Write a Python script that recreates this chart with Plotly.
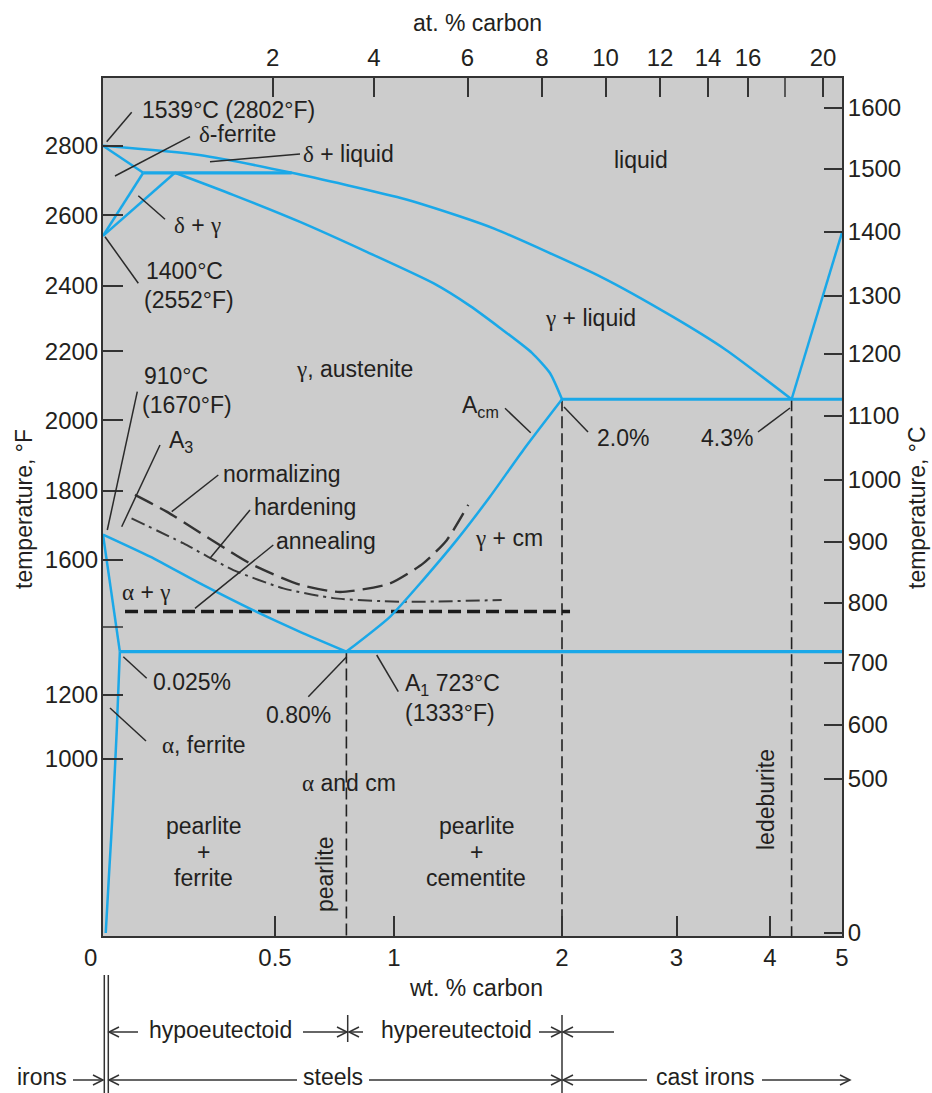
import numpy as np
import plotly.graph_objects as go

# ---------------- axis scales (non-linear) ----------------
WT_SCALE = [0, 0.5, 1, 2, 3, 4, 5]
WT_SCALE_PX = [103, 275, 394, 562, 676.5, 770, 842]
TC_SCALE = [-10, 0, 500, 600, 700, 800, 900, 1000, 1100, 1200, 1300, 1400, 1500, 1600, 1650]
TC_SCALE_PX = [936, 933, 779, 725, 663, 603, 542, 480, 416, 354, 296, 232, 169, 108, 78]

# ---------------- tick values / labels ----------------
WT_TICKS = [0.5, 1, 2, 3, 4, 5]
WT_LABELS = ["0.5", "1", "2", "3", "4", "5"]
AT_TICKS = [2, 4, 6, 8, 10, 12, 14, 16, 20]
AT_TICK_PX = [272.7, 374, 467.5, 542, 605.5, 660, 708, 748, 823]
AT_LABELS = ["2", "4", "6", "8", "10", "12", "14", "16", "20"]
AT_MINOR_PX = [785]  # unlabeled 18 at.% tick
TF_TICKS = [1000, 1200, 1600, 1800, 2000, 2200, 2400, 2600, 2800]
TF_LABELS = ["1000", "1200", "1600", "1800", "2000", "2200", "2400", "2600", "2800"]
TF_MINOR = [1400]  # unlabeled tick
TC_TICKS = [0, 500, 600, 700, 800, 900, 1000, 1100, 1200, 1300, 1400, 1500, 1600]

# ---------------- phase boundaries (wt.% C, deg C) ----------------
LIQ_WT = [0, 0.28, 0.57, 1.04, 1.39, 1.60, 2.34, 2.97, 3.53, 4.3]
LIQ_T = [1538, 1523, 1494, 1454, 1425, 1405, 1330, 1264, 1207, 1127]
CM_LIQ_WT = [4.3, 5.0]
CM_LIQ_T = [1127, 1399]
DSOL_WT = [0, 0.117]
DSOL_T = [1538, 1494]
PERIT_WT = [0.117, 0.57]
PERIT_T = [1494, 1494]
DG1_WT = [0.117, 0]
DG1_T = [1494, 1394]
DG2_WT = [0.209, 0]
DG2_T = [1494, 1394]
SOL_WT = [0.209, 0.378, 0.605, 0.885, 1.234, 1.452, 1.631, 1.821, 1.929, 2.0]
SOL_T = [1494, 1459, 1416, 1369, 1320, 1283, 1245, 1202, 1169, 1127]
EUT_WT = [2.0, 5.0]
EUT_T = [1127, 1127]
ACM_WT = [0.8, 0.983, 1.174, 1.373, 1.571, 1.770, 2.0]
ACM_T = [719, 777, 838, 903, 973, 1047, 1127]
A3_WT = [0, 0.137, 0.282, 0.436, 0.605, 0.8]
A3_T = [912, 876, 832, 788, 752, 719]
AG_WT = [0, 0.049]
AG_T = [912, 719]
A1_WT = [0.049, 5.0]
A1_T = [719, 719]
ASOLV_WT = [0.049, 0.040, 0.030, 0.018, 0.008]
ASOLV_T = [719, 591, 430, 200, 0]

# heat-treatment ranges
NORM_WT = [0.093, 0.185, 0.427, 0.605, 0.773, 0.983, 1.174, 1.314, 1.442]
NORM_T = [976, 949, 865, 830, 818, 832, 865, 903, 960]
HARD_WT = [0.083, 0.233, 0.379, 0.535, 0.745, 1.036, 1.641]
HARD_T = [938, 898, 854, 824, 808, 802, 805]
ANNEAL_WT = [0.064, 2.07]
ANNEAL_T = [786, 786]

# composition markers
MARK_WT = [0.8, 2.0, 4.3]
MARK_TOP_T = [719, 1127, 1127]
MARK_BOTTOM_T = -10

# ---------------- frame & style ----------------
W_PX, H_PX = 932, 1093
PLOT_LEFT, PLOT_RIGHT, PLOT_TOP, PLOT_BOTTOM = 103, 842, 78, 936
PLOT_W = PLOT_RIGHT - PLOT_LEFT
PLOT_H = PLOT_BOTTOM - PLOT_TOP
BLUE = "#1aa8e8"
AX = "#333333"
TXT = "#231f20"
FONT = "Liberation Sans, Arial, sans-serif"
GREEK = "Liberation Serif"
FS = 23


def fx(wt):
    return (np.interp(np.asarray(wt, float), WT_SCALE, WT_SCALE_PX) - PLOT_LEFT) / PLOT_W


def fy(t):
    return (PLOT_BOTTOM - np.interp(np.asarray(t, float), TC_SCALE, TC_SCALE_PX)) / PLOT_H


def PX(x):
    return (x - PLOT_LEFT) / PLOT_W


def PY(y):
    return (PLOT_BOTTOM - y) / PLOT_H


def G(s):
    return '<span style="font-family:%s">%s</span>' % (GREEK, s)


fig = go.Figure()


def curve(wt, t, color=BLUE, width=2.5, dash="solid", shape="linear"):
    fig.add_trace(go.Scatter(
        x=fx(wt).tolist(), y=fy(t).tolist(), mode="lines",
        line=dict(color=color, width=width, dash=dash, shape=shape, smoothing=0.6),
        hoverinfo="skip", showlegend=False))


# heat treatment lines and markers (underneath)
for w, tt in zip(MARK_WT, MARK_TOP_T):
    curve([w, w], [tt, MARK_BOTTOM_T], color="#222222", width=1.6, dash="12px,5px")
curve(ANNEAL_WT, ANNEAL_T, color="#1a1a1a", width=3.5, dash="13px,6px")
curve(NORM_WT, NORM_T, color="#333333", width=2.4, dash="20px,8px", shape="spline")
curve(HARD_WT, HARD_T, color="#3a3a3a", width=2.0, dash="14px,5px,3px,5px", shape="spline")

# phase boundaries
curve(LIQ_WT, LIQ_T, shape="spline")
curve(CM_LIQ_WT, CM_LIQ_T)
curve(DSOL_WT, DSOL_T)
curve(PERIT_WT, PERIT_T, width=3.2)
curve(DG1_WT, DG1_T)
curve(DG2_WT, DG2_T)
curve(SOL_WT, SOL_T, shape="spline")
curve(EUT_WT, EUT_T, width=3.2)
curve(ACM_WT, ACM_T, shape="spline")
curve(A3_WT, A3_T, shape="spline")
curve(AG_WT, AG_T)
curve(A1_WT, A1_T, width=3.2)
curve(ASOLV_WT, ASOLV_T, shape="spline")

# dummy trace for secondary axes
fig.add_trace(go.Scatter(x=[None], y=[None], xaxis="x2", yaxis="y2", mode="lines",
                         showlegend=False, hoverinfo="skip"))

shapes = []
annotations = []


def seg(x0, y0, x1, y1, color=AX, width=1.5):
    shapes.append(dict(type="line", xref="paper", yref="paper", x0=PX(x0), y0=PY(y0),
                       x1=PX(x1), y1=PY(y1), line=dict(color=color, width=width), layer="above"))


def chevron(x, y, d):
    # tip at (x, y); d=+1 points right, d=-1 points left
    p = "M %f,%f L %f,%f L %f,%f" % (PX(x - d * 10), PY(y - 5), PX(x), PY(y), PX(x - d * 10), PY(y + 5))
    shapes.append(dict(type="path", xref="paper", yref="paper", path=p,
                       line=dict(color=AX, width=1.5), layer="above"))


def text(s, x, y, size=FS, xanchor="center", angle=0, align="center"):
    annotations.append(dict(text=s, x=PX(x), y=PY(y), xref="paper", yref="paper", showarrow=False,
                            xanchor=xanchor, yanchor="middle", textangle=angle, align=align,
                            font=dict(family=FONT, size=size, color=TXT)))


# unlabeled minor ticks
for p in AT_MINOR_PX:
    seg(p, PLOT_TOP, p, PLOT_TOP + 19, width=1.5)
for f in TF_MINOR:
    yy = PLOT_BOTTOM - float(fy((f - 32) * 5 / 9)) * PLOT_H
    seg(PLOT_LEFT, yy, PLOT_LEFT + 20, yy, width=1.5)

# ---- labels inside plot ----
text("1539°C (2802°F)", 228, 110)
text(G("δ") + "-ferrite", 237, 134)
text(G("δ") + " + liquid", 348, 154)
text("liquid", 641, 160)
text(G("δ") + " + " + G("γ"), 197, 225)
text("1400°C", 144, 271, xanchor="left")
text("(2552°F)", 142, 300, xanchor="left")
text(G("γ") + " + liquid", 590, 318)
text(G("γ") + ", austenite", 354, 369)
text("A<sub>cm</sub>", 480, 406)
text("2.0%", 623, 438)
text("4.3%", 727, 438)
text("910°C", 142, 376, xanchor="left")
text("(1670°F)", 140, 405, xanchor="left")
text("A<sub>3</sub>", 181, 441)
text("normalizing", 282, 474)
text("hardening", 305, 507)
text("annealing", 326, 541)
text(G("α") + " + " + G("γ"), 146, 592)
text(G("γ") + " + cm", 509, 538)
text("0.025%", 192, 682)
text("0.80%", 298, 715)
text("A<sub>1</sub> 723°C<br>(1333°F)", 403, 698, xanchor="left", align="left")
text(G("α") + ", ferrite", 204, 745)
text(G("α") + " and cm", 349, 783)
text("pearlite", 203, 826)
text("+", 203, 852)
text("ferrite", 203, 878)
text("pearlite", 325, 875, angle=-90)
text("pearlite", 476, 826)
text("+", 476, 852)
text("cementite", 476, 878)
text("ledeburite", 766, 800, angle=-90)

# ---- leader lines ----
LEADERS = [
    (106.7, 141.7, 131.7, 112.3),
    (115, 176, 190, 136.7),
    (210, 161.7, 300, 154),
    (138.3, 195.7, 165, 219.3),
    (105, 236.7, 138.3, 283.3),
    (505, 408.3, 530.7, 432.7),
    (564, 407, 588, 432),
    (758, 432, 790, 408),
    (137.3, 391.7, 107.3, 530),
    (160, 445, 121.7, 526.7),
    (218.3, 475, 171.7, 511.7),
    (250, 510, 210, 558.3),
    (273.3, 545, 195, 608.3),
    (123.3, 656.7, 146.7, 678.3),
    (308.3, 696.7, 346.7, 656.7),
    (376.7, 655, 398.3, 691.7),
    (110, 708, 146, 741),
]
for x0, y0, x1, y1 in LEADERS:
    seg(x0, y0, x1, y1, color="#2a2a2a", width=1.5)

# ---- axis titles and extra tick label ----
text("at. % carbon", 477, 23)
text("wt. % carbon", 476, 988)
text("temperature, °F", 24, 509, angle=-90)
text("temperature, °C", 917, 507, angle=-90)
text("0", 90, 958, size=24)

# ---- classification brackets below the axis ----
seg(104.3, 975, 104.3, 1093)
seg(108.3, 975, 108.3, 1093)
seg(562, 1015, 562, 1093)
seg(347.7, 1015, 347.7, 1042)
R1, R2 = 1032, 1080
T1, T2 = 1030, 1077
text("hypoeutectoid", 220, T1)
seg(138, R1, 109, R1); chevron(109, R1, -1)
seg(303, R1, 347, R1); chevron(347, R1, 1)
seg(363, R1, 349, R1); chevron(349, R1, -1)
text("hypereutectoid", 456, T1)
seg(539, R1, 561, R1); chevron(561, R1, 1)
seg(614, R1, 563, R1); chevron(563, R1, -1)
text("irons", 42, T2)
seg(73, R2, 103, R2); chevron(103, R2, 1)
seg(297, R2, 109, R2); chevron(109, R2, -1)
text("steels", 333, T2)
seg(369, R2, 561, R2); chevron(561, R2, 1)
seg(647, R2, 563, R2); chevron(563, R2, -1)
text("cast irons", 705, T2)
seg(762, R2, 850, R2); chevron(850, R2, 1)

tickfont = dict(family=FONT, size=24, color=TXT)
common = dict(range=[0, 1], showgrid=False, zeroline=False, ticks="inside", tickcolor=AX,
              tickwidth=1.5, showline=True, linecolor=AX, linewidth=2, tickfont=tickfont,
              fixedrange=True)

fig.update_layout(
    width=W_PX, height=H_PX,
    margin=dict(l=PLOT_LEFT, r=W_PX - PLOT_RIGHT, t=PLOT_TOP, b=H_PX - PLOT_BOTTOM, pad=0),
    plot_bgcolor="#cccccc", paper_bgcolor="white",
    xaxis=dict(common, tickvals=fx(WT_TICKS).tolist(), ticktext=WT_LABELS, ticklen=20,
               ticklabelstandoff=-1),
    xaxis2=dict(common, overlaying="x", side="top", ticklen=19,
                tickvals=[PX(p) for p in AT_TICK_PX], ticktext=AT_LABELS, ticklabelstandoff=0),
    yaxis=dict(common, ticklen=20, tickvals=fy([(f - 32) * 5 / 9 for f in TF_TICKS]).tolist(),
               ticktext=TF_LABELS, ticklabelstandoff=-2),
    yaxis2=dict(common, overlaying="y", side="right", ticklen=18,
                tickvals=fy(TC_TICKS).tolist(), ticktext=[str(v) for v in TC_TICKS],
                ticklabelstandoff=-1),
    shapes=shapes, annotations=annotations, showlegend=False,
)

fig.write_html("out.html")
